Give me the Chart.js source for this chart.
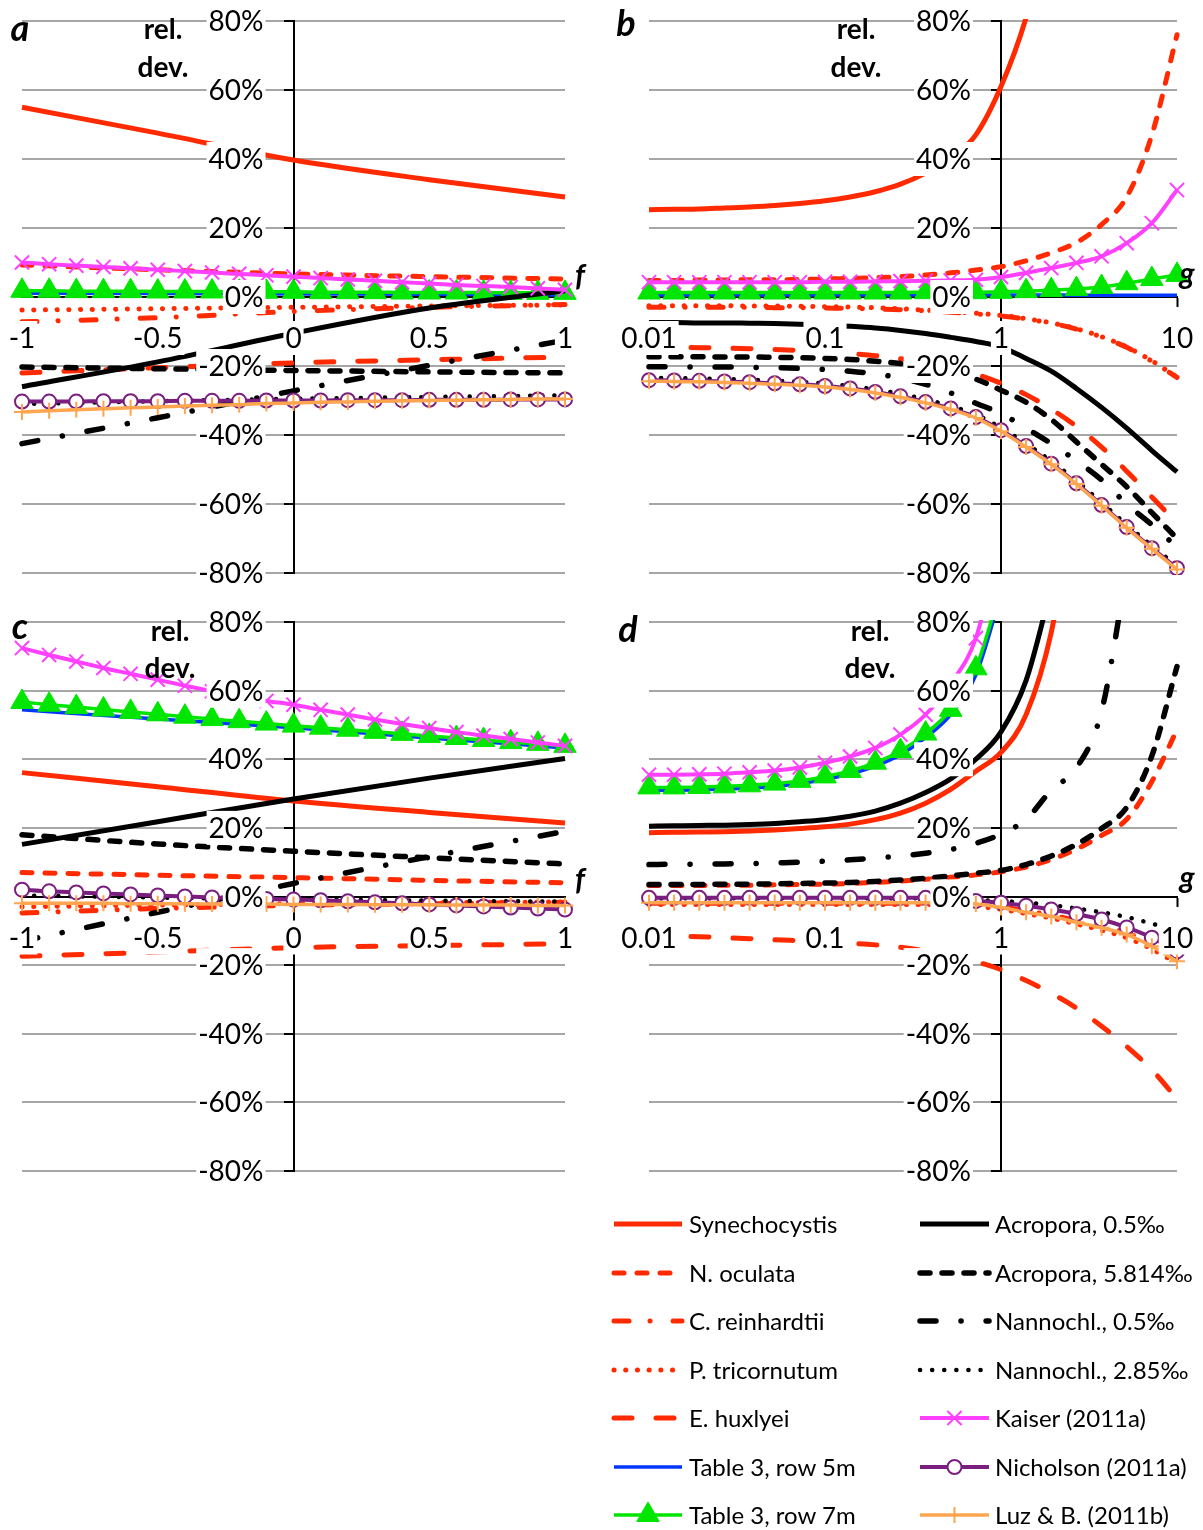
<!DOCTYPE html>
<html>
<head>
<meta charset="utf-8">
<title>Relative deviation</title>
<script src="https://cdn.jsdelivr.net/npm/chart.js@4.4.1/dist/chart.umd.min.js"></script>
<style>
  html, body { margin: 0; padding: 0; background: #fff; }
  #page { position: relative; width: 1203px; height: 1530px; overflow: hidden; font-family: Lato, "Open Sans", sans-serif; color: #000; }
  canvas { position: absolute; }
  .lbl { position: absolute; transform: translate(-50%, -50%); white-space: nowrap; line-height: 1; }
  .panel { font-size: 36px; font-weight: bold; font-style: italic; }
  .ytitle { font-size: 28px; font-weight: bold; }
  .xtitle { font-size: 30px; font-weight: bold; font-style: italic; }
  .leg { position: absolute; font-size: 24px; line-height: 1; transform: translateY(-50%); white-space: nowrap; }
</style>
</head>
<body>
<div id="page">
  <canvas id="chartA" width="600" height="600" style="left:0;top:0"></canvas>
  <canvas id="chartB" width="603" height="600" style="left:600px;top:0"></canvas>
  <canvas id="chartC" width="600" height="600" style="left:0;top:600px"></canvas>
  <canvas id="chartD" width="603" height="600" style="left:600px;top:600px"></canvas>
  <canvas id="legendCanvas" width="603" height="340" style="left:600px;top:1190px"></canvas>

  <div class="lbl panel" style="left:20px;top:27px">a</div>
  <div class="lbl ytitle" style="left:163px;top:28px">rel.</div>
  <div class="lbl ytitle" style="left:163px;top:66px">dev.</div>
  <div class="lbl xtitle" style="left:580px;top:274px">f</div>

  <div class="lbl panel" style="left:626px;top:22px">b</div>
  <div class="lbl ytitle" style="left:856px;top:28px">rel.</div>
  <div class="lbl ytitle" style="left:856px;top:66px">dev.</div>
  <div class="lbl xtitle" style="left:1187px;top:272px">g</div>

  <div class="lbl panel" style="left:20px;top:625px">c</div>
  <div class="lbl ytitle" style="left:170px;top:630px">rel.</div>
  <div class="lbl ytitle" style="left:170px;top:667px">dev.</div>
  <div class="lbl xtitle" style="left:580px;top:878px">f</div>

  <div class="lbl panel" style="left:628px;top:628px">d</div>
  <div class="lbl ytitle" style="left:870px;top:630px">rel.</div>
  <div class="lbl ytitle" style="left:870px;top:667px">dev.</div>
  <div class="lbl xtitle" style="left:1187px;top:876px">g</div>
</div>
<script>
// x positions
const fAll = [-1, -0.9, -0.8, -0.7, -0.6, -0.5, -0.4, -0.3, -0.2, -0.1, 0, 0.1, 0.2, 0.3, 0.4, 0.5, 0.6, 0.7, 0.8, 0.9, 1];
const fFew = [-1, -0.5, 0, 0.5, 1];
const gAll = [0.01, 0.01389, 0.01931, 0.02683, 0.03728, 0.05179, 0.07197, 0.1, 0.1389, 0.1931, 0.2683,
              0.3728, 0.5179, 0.7197, 1, 1.389, 1.931, 2.683, 3.728, 5.179, 7.197, 10];

// tick labels
const yTicks = [-80, -60, -40, -20, 0, 20, 40, 60, 80];
const fTicks = [-1, -0.5, 0, 0.5, 1];
const gTicks = [0.01, 0.1, 1, 10];

const seriesNames = ['Synechocystis', 'N. oculata', 'C. reinhardtii', 'P. tricornutum', 'E. huxlyei',
  'Table 3, row 5m', 'Table 3, row 7m', 'Acropora, 0.5‰', 'Acropora, 5.814‰', 'Nannochl., 0.5‰',
  'Nannochl., 2.85‰', 'Kaiser (2011a)', 'Nicholson (2011a)', 'Luz & B. (2011b)'];

// --- panel a (relative deviation in %, against f) ---
const aSyn  = [55, 47.5, 39.7, 34, 29];
const aNoc  = [9.3, 7.9, 6.7, 5.9, 5.2];
const aCre  = [-7.2, -6.0, -4.2, -3.0, -2.2];
const aPtr  = [-3.8, -3.4, -3.0, -2.6, -2.3];
const aEhu  = [-22, -20.5, -19.1, -18.2, -17.4];
const aT5m  = [1.1, 1.0, 0.9, 0.8, 0.6];
const aT7m  = [1.8, 1.8, 1.7, 1.7, 1.7, 1.6, 1.6, 1.6, 1.5, 1.5, 1.5, 1.4, 1.4, 1.4, 1.3, 1.3, 1.3, 1.3, 1.2, 1.2, 1.2];
const aAc05 = [-26, -18.8, -10.5, -3.2, 1.8];
const aAc58 = [-20.3, -20.8, -21.3, -21.7, -22];
const aNa05 = [-42.5, -35, -27.2, -19.8, -12.5];
const aNa28 = [-31, -30.2, -29.5, -29, -28.5];
const aKai  = [10.0, 9.5, 9.1, 8.7, 8.3, 7.9, 7.5, 7.1, 6.7, 6.3, 5.9, 5.5, 5.1, 4.7, 4.3, 3.9, 3.5, 3.2, 2.9, 2.5, 2.1];
const aNic  = [-30.3, -30.3, -30.3, -30.2, -30.2, -30.2, -30.1, -30.1, -30.1, -30.0, -30.0, -30.0, -29.9, -29.9, -29.9, -29.8, -29.8, -29.8, -29.7, -29.7, -29.7];
const aLuz  = [-33.3, -33.0, -32.7, -32.4, -32.1, -31.9, -31.6, -31.4, -31.2, -30.9, -30.7, -30.5, -30.4, -30.2, -30.1, -30.0, -29.9, -29.8, -29.7, -29.6, -29.6];

// --- panel b (against g) ---
const bSyn  = [25.3, 25.4, 25.5, 25.8, 26.1, 26.5, 27.1, 27.9, 29.0, 30.5, 32.7, 35.9, 40.3, 47, 61, 81, 110, null, null, null, null, null];
const bNoc  = [4.8, 4.8, 4.9, 4.9, 5.0, 5.0, 5.1, 5.2, 5.4, 5.6, 5.9, 6.4, 7.0, 7.8, 8.8, 10.5, 12.8, 15.8, 21, 29, 47, 76];
const bCre  = [-3.0, -3.0, -3.0, -3.0, -3.0, -3.1, -3.1, -3.2, -3.3, -3.5, -3.7, -4.0, -4.4, -4.9, -5.5, -6.4, -7.6, -9.3, -11.6, -14.6, -18.6, -23.3];
const bPtr  = [-2.5, -2.5, -2.5, -2.5, -2.6, -2.6, -2.7, -2.8, -2.9, -3.1, -3.4, -3.8, -4.2, -4.7, -5.3, -6.3, -7.5, -9.2, -11.5, -14.5, -18.5, -23.3];
const bEhu  = [-14.5, -14.6, -14.7, -14.8, -15.0, -15.2, -15.5, -15.9, -16.4, -17.0, -17.9, -19.0, -20.5, -22.4, -25, -28.3, -32.5, -37.5, -43.5, -50.5, -58, -65.5];
const bT5m  = [0.6, 0.6, 0.6, 0.6, 0.6, 0.6, 0.6, 0.6, 0.6, 0.6, 0.6, 0.6, 0.6, 0.6, 0.6, 0.6, 0.6, 0.5, 0.5, 0.5, 0.5, 0.5];
const bT7m  = [1.3, 1.3, 1.3, 1.3, 1.3, 1.3, 1.3, 1.3, 1.3, 1.3, 1.3, 1.4, 1.4, 1.4, 1.5, 1.7, 2.0, 2.3, 2.9, 4.0, 5.2, 6.4];
const bAc05 = [-7.4, -7.4, -7.5, -7.5, -7.6, -7.7, -7.9, -8.1, -8.5, -9.0, -9.7, -10.6, -11.7, -12.9, -14.5, -17.8, -21.5, -26.5, -32, -38, -44.5, -50.7];
const bAc58 = [-17.3, -17.3, -17.3, -17.4, -17.4, -17.5, -17.6, -17.8, -18.1, -18.6, -19.3, -20.3, -21.7, -23.8, -27, -30.5, -35.5, -42, -48.5, -55, -62.5, -70];
const bNa05 = [-20.2, -20.2, -20.3, -20.3, -20.4, -20.5, -20.7, -21.0, -21.5, -22.3, -23.5, -25.3, -27.8, -30.8, -33.8, -38, -42.5, -47.5, -53, -60, -66, -72.5];
const bNa28 = [-23.4, -23.5, -23.6, -23.8, -24.0, -24.3, -24.6, -25.1, -25.8, -26.8, -28.1, -29.7, -31.6, -34.1, -37.9, -42.5, -47.6, -53.3, -59.6, -66.0, -72.1, -77.9];
const bKai  = [4.3, 4.3, 4.3, 4.3, 4.3, 4.3, 4.3, 4.4, 4.4, 4.5, 4.6, 4.7, 4.8, 5.0, 5.8, 7.0, 8.4, 9.9, 11.8, 15.6, 21.4, 31];
const bNic  = [-24.1, -24.2, -24.3, -24.5, -24.7, -25.0, -25.3, -25.8, -26.5, -27.5, -28.8, -30.4, -32.3, -34.8, -38.6, -43.2, -48.3, -54.0, -60.3, -66.7, -72.8, -78.6];
const bLuz  = [-24.4, -24.5, -24.6, -24.8, -25.0, -25.3, -25.6, -26.1, -26.8, -27.8, -29.1, -30.7, -32.6, -35.1, -38.9, -43.5, -48.5, -54.2, -60.5, -66.9, -73.0, -79.0];

// --- panel c (against f) ---
const cSyn  = [36.1, 32, 27.8, 24.5, 21.4];
const cNoc  = [7, 6.2, 5.5, 4.7, 4];
const cCre  = [-4.8, -3.5, -2.6, -2.1, -1.7];
const cPtr  = [-3, -2.5, -2.1, -1.8, -1.6];
const cEhu  = [-17.4, -16.2, -14.9, -14.3, -13.8];
const cT5m  = [54.4, 51.7, 49.2, 46.2, 43.3];
const cT7m  = [56.7, 55.9, 55.2, 54.5, 53.8, 53.1, 52.4, 51.7, 51.1, 50.4, 49.8, 49.2, 48.6, 48.0, 47.4, 46.8, 46.2, 45.6, 45.0, 44.5, 43.9];
const cAc05 = [15.2, 21.8, 28.4, 34.5, 40.2];
const cAc58 = [18, 15.3, 13.2, 11.3, 9.5];
const cNa05 = [-13, -4.6, 3.8, 11.6, 19];
const cNa28 = [0.3, -0.3, -0.8, -1.2, -1.5];
const cKai  = [72.4, 70.4, 68.5, 66.6, 64.9, 63.2, 61.4, 59.8, 58.3, 57.0, 55.9, 54.4, 53.0, 51.6, 50.3, 49.1, 47.9, 46.9, 45.9, 44.9, 43.9];
const cNic  = [2.0, 1.5, 1.2, 0.9, 0.6, 0.3, 0.0, -0.3, -0.5, -0.7, -0.9, -1.1, -1.4, -1.7, -2.0, -2.3, -2.6, -2.9, -3.2, -3.5, -3.8];
const cLuz  = [-2.0, -2.0, -2.0, -2.0, -2.1, -2.1, -2.1, -2.2, -2.2, -2.2, -2.3, -2.3, -2.3, -2.4, -2.4, -2.4, -2.5, -2.5, -2.5, -2.6, -2.6];

// --- panel d (against g) ---
const dSyn  = [18.6, 18.7, 18.8, 18.9, 19.1, 19.4, 19.8, 20.3, 21.1, 22.4, 24.3, 27.2, 31.2, 36.5, 42, 53, 77, 120, null, null, null, null];
const dNoc  = [3.2, 3.2, 3.2, 3.3, 3.3, 3.4, 3.5, 3.6, 3.8, 4.1, 4.5, 5.0, 5.6, 6.3, 7.2, 8.6, 10.8, 13.8, 17.8, 22.5, 33.5, 48.6];
const dCre  = [-2.0, -2.0, -2.0, -2.0, -2.0, -2.0, -2.0, -2.0, -2.0, -2.0, -2.0, -2.0, -2.0, -2.3, -3.0, -4.2, -5.4, -7.0, -8.6, -10.6, -13.8, -18.0];
const dPtr  = [-2.3, -2.3, -2.3, -2.3, -2.3, -2.3, -2.3, -2.3, -2.3, -2.3, -2.3, -2.3, -2.3, -2.8, -3.7, -5.0, -6.3, -8.0, -9.8, -12, -15.3, -19.5];
const dEhu  = [-11.3, -11.5, -11.7, -12.0, -12.3, -12.6, -12.9, -13.2, -13.6, -14.1, -14.8, -15.8, -17.2, -19.0, -21.3, -24.5, -28.2, -32.5, -37.8, -43.7, -50.5, -59];
const dT5m  = [31, 31, 31.1, 31.3, 31.6, 32.1, 32.9, 34.1, 35.7, 38, 41.3, 46.3, 53, 64.5, 88, null, null, null, null, null, null, null];
const dT7m  = [31.8, 31.8, 31.9, 32.1, 32.4, 32.9, 33.7, 35, 36.6, 39, 42.4, 47.5, 54.4, 66.5, 90, null, null, null, null, null, null, null];
const dAc05 = [20.5, 20.6, 20.7, 20.8, 21, 21.3, 21.8, 22.4, 23.4, 24.9, 27.2, 30.3, 34.3, 40, 48, 63, 90, null, null, null, null, null];
const dAc58 = [3.5, 3.5, 3.5, 3.6, 3.6, 3.7, 3.8, 3.9, 4.1, 4.4, 4.8, 5.3, 6.0, 6.8, 7.6, 9.3, 11.8, 15.2, 19.8, 26, 41, 67];
const dNa05 = [9.3, 9.4, 9.4, 9.5, 9.6, 9.8, 10.0, 10.3, 10.7, 11.2, 11.8, 12.6, 13.7, 15.5, 18.2, 22.5, 31, 37.5, 54, 95, null, null];
const dNa28 = [-0.5, -0.5, -0.5, -0.5, -0.5, -0.5, -0.5, -0.5, -0.5, -0.5, -0.5, -0.5, -0.5, -1.0, -1.3, -1.8, -2.5, -3.5, -4.6, -6.0, -7.9, -10];
const dKai  = [35.5, 35.5, 35.6, 35.8, 36.2, 36.7, 37.6, 39, 40.8, 43.3, 47.2, 53, 62, 75.3, 105, null, null, null, null, null, null, null];
const dNic  = [-0.4, -0.4, -0.4, -0.4, -0.4, -0.4, -0.4, -0.4, -0.4, -0.4, -0.4, -0.4, -0.8, -1.3, -1.8, -2.7, -3.8, -5.1, -6.7, -9.0, -12, -16];
const dLuz  = [-1.8, -1.8, -1.8, -1.8, -1.8, -1.8, -1.8, -1.8, -1.8, -1.8, -1.8, -1.8, -1.8, -2.2, -3.2, -4.6, -5.8, -7.5, -9.1, -11.1, -14.5, -18.9];

// line styles, same order as seriesNames
const RED = '#ff2a00', BLACK = '#000000';
const styles = [
  { color: RED, width: 5 },
  { color: RED, width: 5, dash: [10, 13], cap: 'round' },
  { color: RED, width: 5, dash: [15, 21, 0.1, 23], cap: 'round' },
  { color: RED, width: 5, dash: [0.1, 11.6], cap: 'round' },
  { color: RED, width: 5, dash: [18, 24], cap: 'round' },
  { color: '#0037ff', width: 3.5 },
  { color: '#00e600', width: 3.5, point: 'triangle', radius: 13, fill: '#00e600', pw: 1 },
  { color: BLACK, width: 5 },
  { color: BLACK, width: 5.5, dash: [10, 12], cap: 'round' },
  { color: BLACK, width: 5.5, dash: [16, 25, 0.1, 25], cap: 'round' },
  { color: BLACK, width: 4.5, dash: [0.1, 12], cap: 'round' },
  { color: '#ff40ff', width: 4, point: 'crossRot', radius: 10, fill: '#ff40ff', pw: 2 },
  { color: '#7a1f80', width: 4, point: 'circle', radius: 7, fill: '#ffffff', pw: 2 },
  { color: '#ffa54f', width: 3.5, point: 'cross', radius: 8, fill: '#ffa54f', pw: 2 }
];

function xsFor(ys) {
  if (ys.length === fFew.length) return fFew;
  if (ys.length === fAll.length) return fAll;
  return gAll;
}

function buildDatasets(values) {
  return values.map((ys, i) => {
    const st = styles[i];
    const xs = xsFor(ys);
    const data = [];
    ys.forEach((y, j) => { if (y !== null) data.push({ x: xs[j], y: y }); });
    return {
      label: seriesNames[i],
      data: data,
      borderColor: st.color,
      borderWidth: st.width,
      borderDash: st.dash || [],
      borderCapStyle: st.cap || 'butt',
      borderJoinStyle: 'round',
      cubicInterpolationMode: 'monotone',
      pointStyle: st.point || 'circle',
      pointRadius: st.point ? st.radius : 0,
      pointHoverRadius: 0,
      pointBackgroundColor: st.fill || st.color,
      pointBorderColor: st.color,
      pointBorderWidth: st.pw || 1,
      clip: { left: 20, right: 20, top: 2, bottom: 2 },
      order: values.length - i // later series on top, like the original
    };
  });
}

// tick labels drawn on top of the lines with a white box (as in the original)
const tickLabels = {
  id: 'tickLabels',
  afterDatasetsDraw(chart, args, opts) {
    const ctx = chart.ctx, xs = chart.scales.x, ys = chart.scales.y;
    const axisX = xs.getPixelForValue(opts.yAxisAt);
    const axisY = ys.getPixelForValue(0);
    ctx.save();
    ctx.font = '28px Lato, sans-serif';
    ctx.textBaseline = 'middle';
    const label = (txt, px, py, align) => {
      const w = ctx.measureText(txt).width;
      const left = align === 'right' ? px - w : px - w / 2;
      ctx.fillStyle = '#fff';
      ctx.fillRect(left - 2, py - 17, w + 4, 34);
      ctx.fillStyle = '#000';
      ctx.textAlign = align;
      ctx.fillText(txt, px, py + 1);
    };
    yTicks.forEach(v => label(v + '%', axisX - 30, ys.getPixelForValue(v), 'right'));
    opts.xTicks.forEach(v => label(String(v), xs.getPixelForValue(v), axisY + 41, 'center'));
    ctx.restore();
  }
};

function makePanel(id, isLog, values, pad) {
  const xMin = isLog ? 0.01 : -1, xMax = isLog ? 10 : 1, yAt = isLog ? 1 : 0;
  return new Chart(document.getElementById(id), {
    type: 'line',
    data: { datasets: buildDatasets(values) },
    plugins: [tickLabels],
    options: {
      responsive: false,
      animation: false,
      events: [],
      layout: { padding: pad },
      plugins: {
        legend: { display: false },
        tooltip: { enabled: false },
        tickLabels: { yAxisAt: yAt, xTicks: isLog ? gTicks : fTicks }
      },
      scales: {
        x: {
          type: isLog ? 'logarithmic' : 'linear',
          min: xMin, max: xMax,
          position: { y: 0 },
          ticks: { display: false },
          grid: {
            drawOnChartArea: false, drawTicks: true, tickLength: 9, tickWidth: 2,
            tickColor: c => (isLog && c.tick && c.tick.value === xMax) ? '#000' : 'rgba(0,0,0,0)'
          },
          border: { display: true, color: '#000', width: 2 }
        },
        y: {
          type: 'linear', min: -80, max: 80,
          position: { x: yAt },
          ticks: { display: false, stepSize: 20 },
          grid: { color: '#a6a6a6', lineWidth: 2, drawTicks: true, tickLength: 9, tickWidth: 2, tickColor: '#000' },
          border: { display: true, color: '#000', width: 2 }
        }
      }
    }
  });
}

makePanel('chartA', false, [aSyn, aNoc, aCre, aPtr, aEhu, aT5m, aT7m, aAc05, aAc58, aNa05, aNa28, aKai, aNic, aLuz],
  { left: 22, top: 21, right: 35, bottom: 27 });
makePanel('chartB', true, [bSyn, bNoc, bCre, bPtr, bEhu, bT5m, bT7m, bAc05, bAc58, bNa05, bNa28, bKai, bNic, bLuz],
  { left: 49, top: 21, right: 26, bottom: 27 });
makePanel('chartC', false, [cSyn, cNoc, cCre, cPtr, cEhu, cT5m, cT7m, cAc05, cAc58, cNa05, cNa28, cKai, cNic, cLuz],
  { left: 22, top: 22, right: 35, bottom: 29 });
makePanel('chartD', true, [dSyn, dNoc, dCre, dPtr, dEhu, dT5m, dT7m, dAc05, dAc58, dNa05, dNa28, dKai, dNic, dLuz],
  { left: 49, top: 22, right: 26, bottom: 29 });

// legend (two columns of seven)
const legendRows = [1224, 1273, 1321, 1370, 1418, 1467, 1515];
(function drawLegend() {
  const page = document.getElementById('page');
  const cv = document.getElementById('legendCanvas');
  const ctx = cv.getContext('2d');
  const top = 1190, left = 600;
  seriesNames.forEach((name, i) => {
    const col = i < 7 ? 0 : 1;
    const y = legendRows[i % 7] - top;
    const x1 = (col ? 920 : 614) - left, x2 = (col ? 989 : 682) - left;
    const st = styles[i];
    ctx.save();
    ctx.strokeStyle = st.color;
    ctx.lineWidth = st.width;
    ctx.setLineDash(st.dash || []);
    ctx.lineCap = st.cap || 'butt';
    ctx.beginPath();
    ctx.moveTo(x1, y);
    ctx.lineTo(x2, y);
    ctx.stroke();
    ctx.restore();
    if (st.point) {
      ctx.save();
      ctx.setLineDash([]);
      ctx.fillStyle = st.fill;
      ctx.strokeStyle = st.color;
      ctx.lineWidth = st.pw;
      Chart.helpers.drawPoint(ctx, { pointStyle: st.point, radius: st.radius, rotation: 0, borderWidth: st.pw }, (x1 + x2) / 2, y);
      ctx.restore();
    }
    const div = document.createElement('div');
    div.className = 'leg';
    div.textContent = name;
    div.style.left = (col ? 995 : 689) + 'px';
    div.style.top = legendRows[i % 7] + 'px';
    page.appendChild(div);
  });
})();
</script>
</body>
</html>
